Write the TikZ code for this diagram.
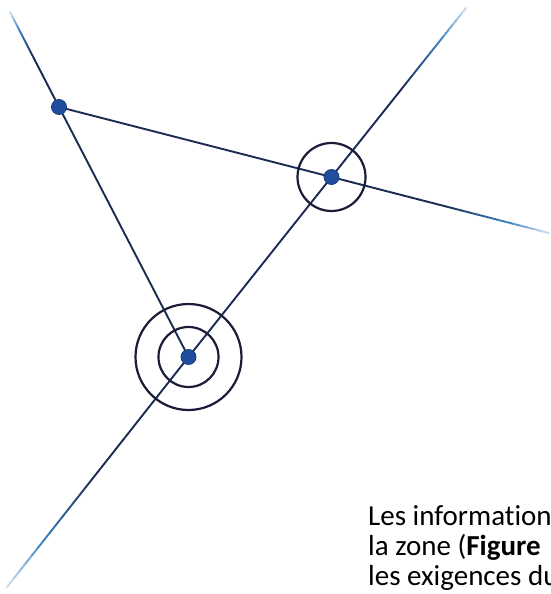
\documentclass[tikz,border=0pt]{standalone}
\usepackage{fontspec}
\setmainfont{Carlito}[Ligatures=NoCommon]
\usetikzlibrary{calc}
\definecolor{lnav}{HTML}{1B2B52}
\definecolor{lblu}{HTML}{3F86C4}
\definecolor{lfade}{HTML}{E4EEF8}
\definecolor{dotfill}{HTML}{1F4E9E}
\definecolor{dotedge}{HTML}{163A7A}
\definecolor{ringcol}{HTML}{1A1C38}
\newcommand\fadeln[2]{%
  \foreach \i in {0,...,29}{%
    \pgfmathsetmacro\ta{\i/30}%
    \pgfmathsetmacro\tb{(\i+1)/30}%
    \ifnum\i<15 \def\col{lnav}\else
      \ifnum\i<24 \pgfmathtruncatemacro\p{100-(\i-15)*11}\edef\col{lnav!\p!lblu}\else
        \pgfmathtruncatemacro\p{100-(\i-24)*16}\edef\col{lblu!\p!lfade}\fi\fi
    \draw[segline,\col] ($(#1)!\ta!(#2)$) -- ($(#1)!\tb!(#2)$);
  }}
\begin{document}
\begin{tikzpicture}[x=1pt,y=-1pt,
  mainline/.style={draw=lnav,line width=1.9pt},
  segline/.style={line width=1.9pt,line cap=round},
  ring/.style={draw=ringcol,line width=2.2pt,circle,inner sep=0pt},
  dotpt/.style={circle,fill=dotfill,draw=dotedge,line width=0.8pt,minimum size=15pt,inner sep=0pt},
  txt/.style={font=\fontsize{29}{30}\selectfont,anchor=base west,align=left,inner sep=0pt}]
\useasboundingbox (0,0) rectangle (551,594);
\clip (0,0) rectangle (551,594);
\fill[white] (0,0) rectangle (551,594);
% points
\coordinate (Ap) at (59,107);
\coordinate (Bp) at (331.5,177);
\coordinate (Cp) at (188.5,357);
\coordinate (Aend) at (10,12);
\coordinate (Bend) at (549,233);
\coordinate (Tend) at (466,8);
\coordinate (Lend) at (7,587);
% extensions
\fadeln{Ap}{Aend}
\fadeln{Bp}{Bend}
\fadeln{Bp}{Tend}
\fadeln{Cp}{Lend}
% main lines
\draw[mainline] (Ap) -- (Bp);
\draw[mainline] (Ap) -- (Cp);
\draw[mainline] (Cp) -- (Bp);
% rings
\node[ring,minimum size=68pt] (ringB) at (Bp) {};
\node[ring,minimum size=60pt] (ringCi) at (Cp) {};
\node[ring,minimum size=106pt] (ringCo) at (Cp) {};
% dots
\node[dotpt] (A) at (Ap) {};
\node[dotpt] (B) at (Bp) {};
\node[dotpt] (C) at (Cp) {};
% text
\node[txt] (text) at (368,585) {Les informations\\la zone (\textbf{Figure}\\les exigences du};
\end{tikzpicture}
\end{document}
